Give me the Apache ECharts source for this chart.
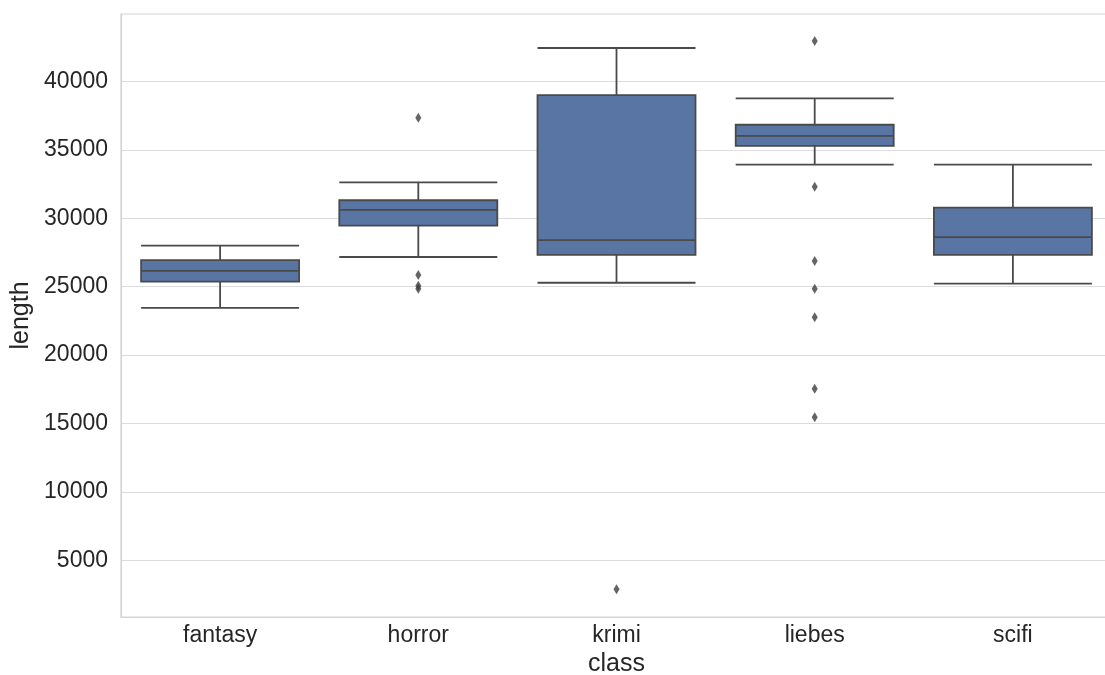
<!DOCTYPE html>
<html>
<head>
<meta charset="utf-8">
<script src="https://cdn.jsdelivr.net/npm/echarts@6/dist/echarts.min.js"></script>
<style>
html,body{margin:0;padding:0;background:#fff;}
#chart{width:1105px;height:675px;}
</style>
</head>
<body>
<div id="chart"></div>
<script>
// Categories
const categories = ['fantasy', 'horror', 'krimi', 'liebes', 'scifi'];
// Box statistics per category
const whiskerLow  = [23450, 27170, 25290, 33920, 25220];
const q1          = [25370, 29460, 27320, 35290, 27320];
const median      = [26150, 30610, 28410, 36020, 28630];
const q3          = [26950, 31320, 39010, 36840, 30780];
const whiskerHigh = [28000, 32630, 42450, 38770, 33920];
// Outliers per category
const outliersFantasy = [];
const outliersHorror  = [37350, 25860, 25070, 24850];
const outliersKrimi   = [2880];
const outliersLiebes  = [42960, 32310, 26880, 24850, 22760, 17540, 15450];
const outliersScifi   = [];
// Tick labels on the y axis
const yTicks = [5000, 10000, 15000, 20000, 25000, 30000, 35000, 40000];

const outlierLists = [outliersFantasy, outliersHorror, outliersKrimi, outliersLiebes, outliersScifi];
const boxData = categories.map((c, i) => [whiskerLow[i], q1[i], median[i], q3[i], whiskerHigh[i]]);
const outlierData = [];
outlierLists.forEach((list, i) => list.forEach(v => outlierData.push([categories[i], v])));

const FONT = '"Liberation Sans", Arial, sans-serif';
const chart = echarts.init(document.getElementById('chart'), null, {renderer: 'canvas'});
chart.setOption({
  animation: false,
  backgroundColor: '#ffffff',
  grid: {
    left: 121, right: -7, top: 14, bottom: 58,
    containLabel: false,
    outerBoundsMode: 'none',
    show: true, borderColor: '#d5d5d5', borderWidth: 1.2, backgroundColor: 'transparent'
  },
  xAxis: {
    type: 'category',
    data: categories,
    boundaryGap: true,
    name: 'class',
    nameLocation: 'middle',
    nameGap: 34,
    nameTextStyle: {fontFamily: FONT, fontSize: 25, color: '#262626'},
    axisLine: {show: true, lineStyle: {color: '#d5d5d5', width: 1.2}},
    axisTick: {show: false},
    axisLabel: {fontFamily: FONT, fontSize: 23, color: '#262626', margin: 7},
    splitLine: {show: false}
  },
  yAxis: {
    type: 'value',
    min: 855,
    max: 44935,
    name: 'length',
    nameLocation: 'middle',
    nameGap: 86,
    nameRotate: 90,
    nameTextStyle: {fontFamily: FONT, fontSize: 25, color: '#262626'},
    axisLine: {show: true, lineStyle: {color: '#d5d5d5', width: 1.2}},
    axisTick: {show: false, customValues: yTicks},
    axisLabel: {fontFamily: FONT, fontSize: 23, color: '#262626', margin: 13, customValues: yTicks,
      formatter: v => String(v)},
    splitLine: {show: true, lineStyle: {color: '#dcdcdc', width: 1.1}}
  },
  series: [
    {
      type: 'boxplot',
      data: boxData,
      boxWidth: [158, 158],
      itemStyle: {color: '#5875a4', borderColor: '#4a4a4a', borderWidth: 1.8},
      emphasis: {disabled: true}
    },
    {
      type: 'scatter',
      data: outlierData,
      symbol: 'diamond',
      symbolSize: [6, 10],
      itemStyle: {color: '#3d3d3d'},
      emphasis: {disabled: true}
    }
  ]
});
</script>
</body>
</html>
